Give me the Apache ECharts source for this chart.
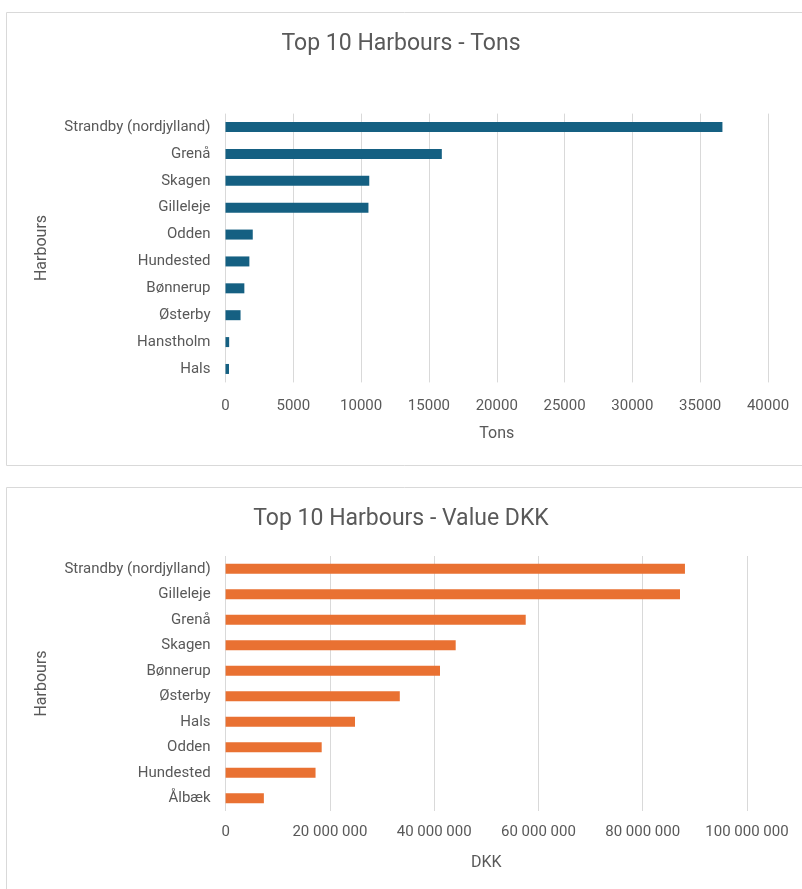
<!DOCTYPE html>
<html><head><meta charset="utf-8">
<script src="https://cdn.jsdelivr.net/npm/echarts@6/dist/echarts.min.js"></script>
<style>html,body{margin:0;padding:0;background:#fff}#c{width:802px;height:889px}</style>
</head><body><div id="c"></div>
<script>
const tonsCategories = ["Strandby (nordjylland)","Grenå","Skagen","Gilleleje","Odden","Hundested","Bønnerup","Østerby","Hanstholm","Hals"];
const tonsValues = [36640,15950,10600,10540,2010,1760,1390,1110,270,260];
const dkkCategories = ["Strandby (nordjylland)","Gilleleje","Grenå","Skagen","Bønnerup","Østerby","Hals","Odden","Hundested","Ålbæk"];
const dkkValues = [88100000,87150000,57560000,44130000,41120000,33410000,24820000,18430000,17250000,7340000];

const FONT = "'Liberation Sans Narrow','Roboto','Noto Sans',sans-serif";
const TXT = '#595959';
const chart = echarts.init(document.getElementById('c'));
function fmtSpace(v){return String(v).replace(/\B(?=(\d{3})+(?!\d))/g,' ');}
function fmtPlain(v){return String(v);}
const catAxis = (i, cats) => ({
  type:'category', gridIndex:i, data:cats, inverse:true,
  axisLine:{show:false}, axisTick:{show:false},
  axisLabel:{color:TXT, fontSize:15, fontFamily:FONT, margin:15},
  name:'Harbours', nameLocation:'middle', nameGap:176, nameRotate:90,
  nameTextStyle:{color:TXT, fontSize:16, fontFamily:FONT}
});
chart.setOption({
  animation:false,
  title:[
    {text:'Top 10 Harbours - Tons', left:'center', top:28, textStyle:{color:TXT, fontSize:23, fontWeight:'normal', fontFamily:FONT}},
    {text:'Top 10 Harbours - Value DKK', left:'center', top:503, textStyle:{color:TXT, fontSize:23, fontWeight:'normal', fontFamily:FONT}}
  ],
  graphic:[
    {type:'rect', shape:{x:6.5,y:12.5,width:800,height:453}, style:{fill:'none', stroke:'#d9d9d9', lineWidth:1}, silent:true},
    {type:'rect', shape:{x:6.5,y:487.5,width:800,height:410}, style:{fill:'none', stroke:'#d9d9d9', lineWidth:1}, silent:true}
  ],
  grid:[
    {left:225.5, right:34, top:113.6, height:268.8},
    {left:225.6, right:55, top:556, height:255}
  ],
  xAxis:[
    {type:'value', gridIndex:0, min:0, max:40000, interval:5000,
     axisLine:{show:false}, axisTick:{show:false},
     splitLine:{lineStyle:{color:'#d9d9d9'}},
     axisLabel:{color:TXT, fontSize:15, fontFamily:FONT, margin:16, formatter:fmtPlain},
     name:'Tons', nameLocation:'middle', nameGap:44,
     nameTextStyle:{color:TXT, fontSize:16, fontFamily:FONT}},
    {type:'value', gridIndex:1, min:0, max:100000000, interval:20000000,
     axisLine:{show:false}, axisTick:{show:false},
     splitLine:{lineStyle:{color:'#d9d9d9'}},
     axisLabel:{color:TXT, fontSize:15, fontFamily:FONT, margin:14, formatter:fmtSpace},
     name:'DKK', nameLocation:'middle', nameGap:44,
     nameTextStyle:{color:TXT, fontSize:16, fontFamily:FONT}}
  ],
  yAxis:[catAxis(0, tonsCategories), catAxis(1, dkkCategories)],
  series:[
    {type:'bar', xAxisIndex:0, yAxisIndex:0, data:tonsValues, barWidth:10, itemStyle:{color:'#156082'}},
    {type:'bar', xAxisIndex:1, yAxisIndex:1, data:dkkValues, barWidth:10, itemStyle:{color:'#E97132'}}
  ]
});
</script></body></html>
